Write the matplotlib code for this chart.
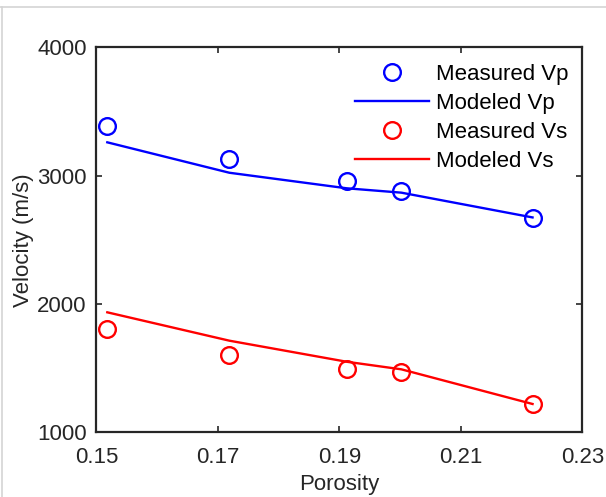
import matplotlib
matplotlib.use('Agg')
import matplotlib.pyplot as plt
from matplotlib.lines import Line2D

# values
porosity = [0.1518, 0.1719, 0.1912, 0.2002, 0.2218]
vp_measured = [3389, 3130, 2959, 2883, 2667]
vp_modeled = [3260, 3023, 2902, 2868, 2675]
vs_measured = [1806, 1604, 1492, 1474, 1220]
vs_modeled = [1936, 1715, 1551, 1492, 1222]

xticks = [0.15, 0.17, 0.19, 0.21, 0.23]
yticks = [1000, 2000, 3000, 4000]

plt.rcParams['font.family'] = ['Liberation Sans', 'DejaVu Sans']
plt.rcParams['font.size'] = 16

fig = plt.figure(figsize=(6.06, 4.97), dpi=100)
ax = fig.add_axes([0.159, 0.1298, 0.802, 0.775])

ax.plot(porosity, vp_measured, 'o', color='#0000ff', mfc='none', ms=12, mew=1.7,
        linestyle='none', label='Measured Vp')
ax.plot(porosity, vp_modeled, '-', color='#0000ff', lw=1.7, label='Modeled Vp')
ax.plot(porosity, vs_measured, 'o', color='#ff0000', mfc='none', ms=12, mew=1.7,
        linestyle='none', label='Measured Vs')
ax.plot(porosity, vs_modeled, '-', color='#ff0000', lw=1.7, label='Modeled Vs')

ax.set_xlim(0.15, 0.23)
ax.set_ylim(1000, 4000)
ax.set_xticks(xticks)
ax.set_xticklabels(['%.2f' % t for t in xticks])
ax.set_yticks(yticks)

for s in ax.spines.values():
    s.set_linewidth(1.6)
    s.set_color('#262626')
ax.tick_params(direction='in', top=True, right=True, length=4, width=1.2,
               color='#262626', labelcolor='#262626')
ax.tick_params(axis='x', pad=10.5)
ax.tick_params(axis='y', pad=7)

ax.set_xlabel('Porosity', color='#262626', labelpad=4)
ax.set_ylabel('Velocity (m/s)', color='#262626', labelpad=2)

ax.legend(loc='upper right', frameon=False, handlelength=3.35, handletextpad=0.3,
          labelspacing=0.36, borderaxespad=0.0, bbox_to_anchor=(0.99, 0.98))

# faint border from the screenshot
fig.add_artist(Line2D([0, 1], [0.986, 0.986], transform=fig.transFigure,
                      color='#d4d4d4', lw=1.2))
fig.add_artist(Line2D([0.003, 0.003], [0, 0.986], transform=fig.transFigure,
                      color='#d4d4d4', lw=1.2))

fig.savefig('out.png', dpi=100)
